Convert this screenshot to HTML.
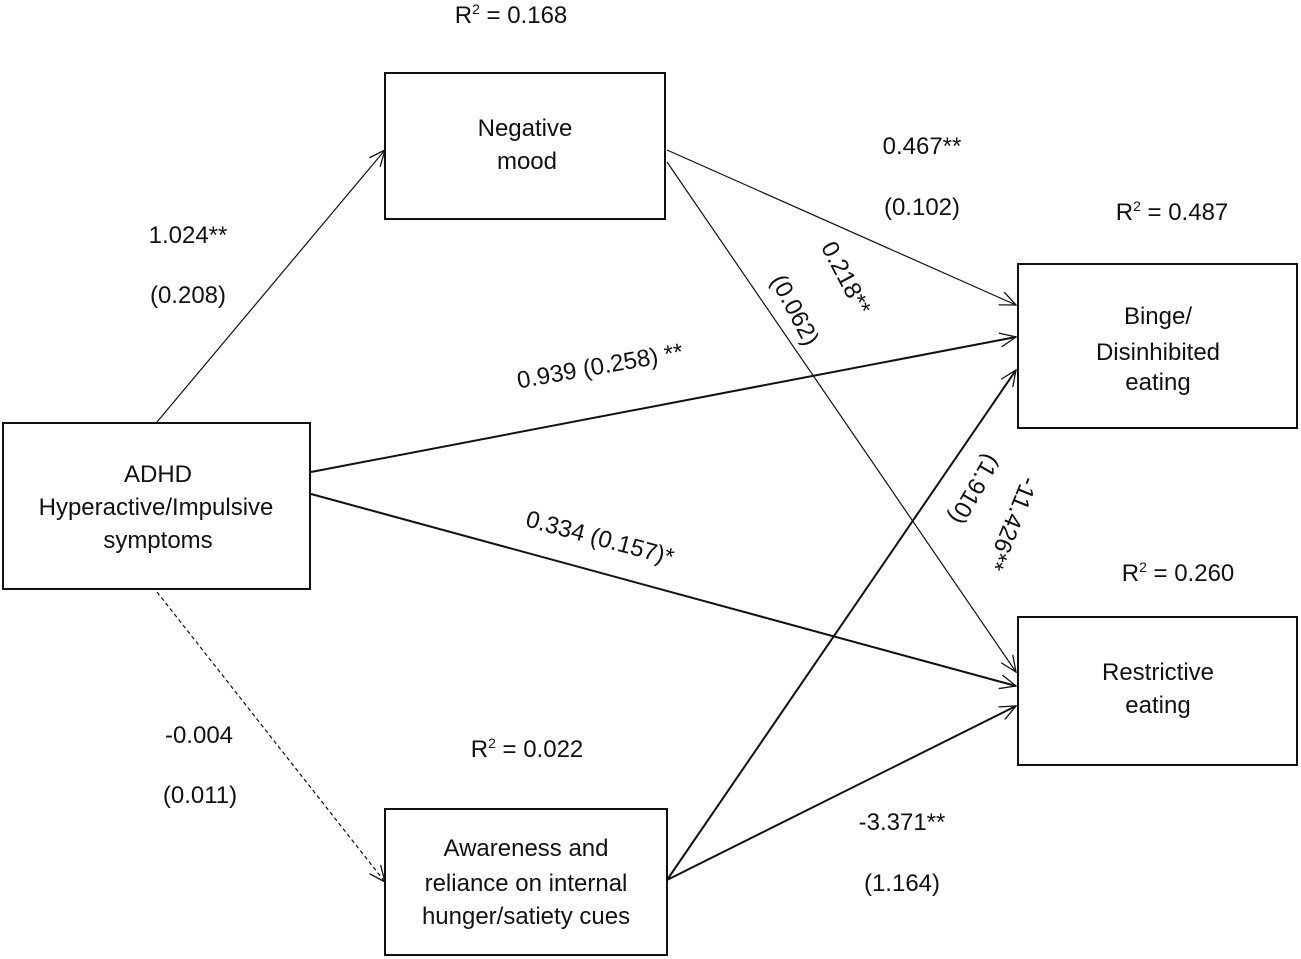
<!DOCTYPE html>
<html><head><meta charset="utf-8"><style>
html,body{margin:0;padding:0;background:#fff;}
svg{display:block;}
text{font-family:"Liberation Sans",sans-serif;font-size:24px;fill:#111;}
</style></head><body>
<svg width="1301" height="959" viewBox="0 0 1301 959" xmlns="http://www.w3.org/2000/svg">
<defs>
<marker id="a" markerWidth="20" markerHeight="20" refX="18" refY="10" orient="auto" markerUnits="userSpaceOnUse">
<path d="M2,3 L18,10 L2,17" fill="none" stroke="#111" stroke-width="1.3"/>
</marker>
</defs>
<g fill="none" stroke="#111">
<rect x="385" y="73" width="280" height="146" stroke-width="2"/>
<rect x="1018" y="264" width="279" height="164" stroke-width="2"/>
<rect x="1018" y="617" width="279" height="148" stroke-width="2"/>
<rect x="3" y="423" width="307" height="166" stroke-width="2"/>
<rect x="385" y="809" width="282" height="146" stroke-width="2"/>

<line x1="157" y1="422" x2="385" y2="150" stroke-width="1.2" marker-end="url(#a)"/>
<line x1="311" y1="472" x2="1016" y2="337" stroke-width="2" marker-end="url(#a)"/>
<line x1="311" y1="494" x2="1016" y2="686" stroke-width="2" marker-end="url(#a)"/>
<line x1="157" y1="592" x2="385" y2="882" stroke-width="1.2" stroke-dasharray="4,3" marker-end="url(#a)"/>
<line x1="667" y1="150" x2="1016" y2="305" stroke-width="1.2" marker-end="url(#a)"/>
<line x1="667" y1="162" x2="1016" y2="672" stroke-width="1.2" marker-end="url(#a)"/>
<line x1="667" y1="880" x2="1016" y2="370" stroke-width="2" marker-end="url(#a)"/>
<line x1="667" y1="880" x2="1016" y2="706" stroke-width="2" marker-end="url(#a)"/>
</g>
<g text-anchor="middle">
<text x="525" y="136">Negative</text>
<text x="527" y="169">mood</text>
<text x="1158" y="324">Binge/</text>
<text x="1158" y="360">Disinhibited</text>
<text x="1158" y="390">eating</text>
<text x="1158" y="680">Restrictive</text>
<text x="1158" y="713">eating</text>
<text x="158" y="482">ADHD</text>
<text x="156" y="515">Hyperactive/Impulsive</text>
<text x="158" y="548">symptoms</text>
<text x="526" y="856">Awareness and</text>
<text x="526" y="891">reliance on internal</text>
<text x="526" y="924">hunger/satiety cues</text>

<text x="511" y="23">R<tspan font-size="14" dy="-9">2</tspan><tspan dy="9"> = 0.168</tspan></text>
<text x="1172" y="220">R<tspan font-size="14" dy="-9">2</tspan><tspan dy="9"> = 0.487</tspan></text>
<text x="1178" y="581">R<tspan font-size="14" dy="-9">2</tspan><tspan dy="9"> = 0.260</tspan></text>
<text x="527" y="757">R<tspan font-size="14" dy="-9">2</tspan><tspan dy="9"> = 0.022</tspan></text>

<text x="188" y="243">1.024**</text>
<text x="188" y="303">(0.208)</text>
<text x="922" y="154">0.467**</text>
<text x="922" y="215">(0.102)</text>
<text x="199" y="743">-0.004</text>
<text x="200" y="803">(0.011)</text>
<text x="902" y="830">-3.371**</text>
<text x="902" y="891">(1.164)</text>
<text x="600" y="374" transform="rotate(-10 600 366)">0.939 (0.258) **</text>
<text x="600" y="546" transform="rotate(15 600 538)">0.334 (0.157)*</text>
<text x="846" y="286" transform="rotate(62 846 278)">0.218**</text>
<text x="795" y="318" transform="rotate(62 795 310)">(0.062)</text>
<text x="982" y="493" transform="rotate(120 977 485)">(1.910)</text>
<text x="1019" y="527" transform="rotate(112 1014 519)">-11.426**</text>
</g>
</svg>
</body></html>
